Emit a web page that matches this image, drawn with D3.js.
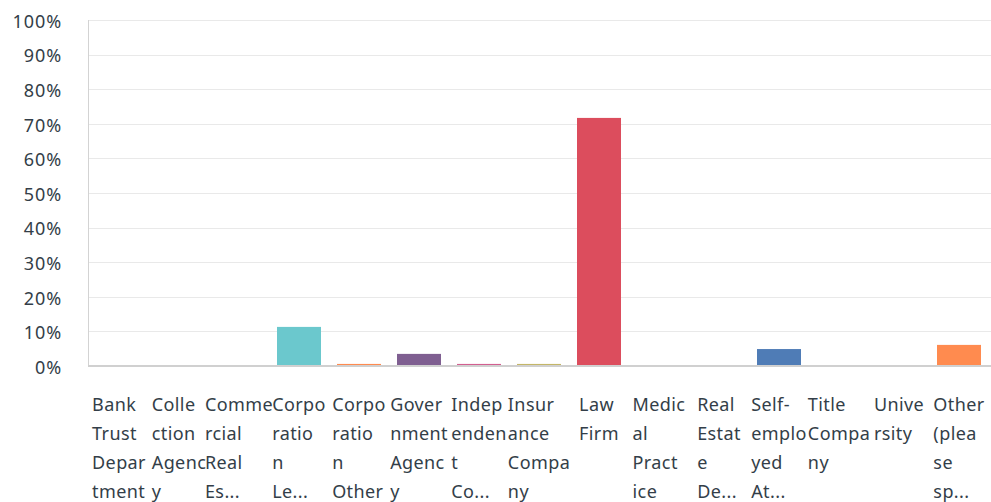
<!DOCTYPE html>
<html>
<head>
<meta charset="utf-8">
<script src="https://cdn.jsdelivr.net/npm/d3@7"></script>
<style>
body { margin: 0; background: #fff; }
text { font-family: "Noto Sans", sans-serif; fill: #333e48; }
</style>
</head>
<body>
<div id="chart"></div>
<script>
// answer choices
var categories = ["Bank Trust Department", "Collection Agency", "Commercial Real Estate",
  "Corporation Legal", "Corporation Other", "Government Agency", "Independent Contractor",
  "Insurance Company", "Law Firm", "Medical Practice", "Real Estate Developer",
  "Self-employed Attorney", "Title Company", "University", "Other (please specify)"];

// wrapped label lines as shown under each bar
var labelLines = [
  ["Bank", "Trust", "Depar", "tment"],
  ["Colle", "ction", "Agenc", "y"],
  ["Comme", "rcial", "Real", "Es..."],
  ["Corpo", "ratio", "n", "Le..."],
  ["Corpo", "ratio", "n", "Other"],
  ["Gover", "nment", "Agenc", "y"],
  ["Indep", "enden", "t", "Co..."],
  ["Insur", "ance", "Compa", "ny"],
  ["Law", "Firm"],
  ["Medic", "al", "Pract", "ice"],
  ["Real", "Estat", "e", "De..."],
  ["Self-", "emplo", "yed", "At..."],
  ["Title", "Compa", "ny"],
  ["Unive", "rsity"],
  ["Other", "(plea", "se", "sp..."]
];

// percent of respondents
var values = [0, 0, 0, 11.3, 0.6, 3.5, 0.6, 0.6, 71.7, 0, 0, 4.9, 0, 0, 6.1];

var colors = ["#6bc8cd", "#ff8b4f", "#7d5e90", "#6bc8cd", "#ff8b4f", "#7f5f91", "#d25f90",
  "#c4b668", "#dc4d5d", "#9aa0a6", "#7d5e90", "#4f7cb6", "#6bc8cd", "#ff8b4f", "#ff8b4f"];

var yTicks = [0, 10, 20, 30, 40, 50, 60, 70, 80, 90, 100];

var width = 991,
    height = 502;

var svg = d3.select("#chart")
    .append("svg")
    .attr("width", width)
    .attr("height", height);

var xScale = d3.scaleBand()
    .domain(categories)
    .range([89, 989])
    .paddingInner(16 / 60)
    .paddingOuter(8 / 60);

var yScale = d3.scaleLinear()
    .domain([0, 100])
    .range([366, 20]);

// grid lines
svg.append("g")
    .selectAll("line")
    .data(yTicks.filter(function(d) { return d > 0; }))
    .enter().append("line")
    .attr("x1", 88)
    .attr("x2", width)
    .attr("y1", function(d) { return Math.round(yScale(d)) + 0.5; })
    .attr("y2", function(d) { return Math.round(yScale(d)) + 0.5; })
    .attr("stroke", "#e9e9e9")
    .attr("stroke-width", 1);

// left axis line
svg.append("line")
    .attr("x1", 88.5).attr("x2", 88.5)
    .attr("y1", yScale(100)).attr("y2", yScale(0))
    .attr("stroke", "#d3d3d3");

var yAxis = d3.axisLeft(yScale)
    .tickValues(yTicks)
    .tickSize(0)
    .tickPadding(0)
    .tickFormat(function(d) { return d + "%"; });

svg.append("g")
    .attr("class", "yAxis")
    .attr("transform", "translate(62,0)")
    .call(yAxis)
    .call(function(g) { g.select(".domain").remove(); })
    .selectAll("text")
    .attr("dy", "0.4em")
    .style("font-family", "Noto Sans")
    .style("font-size", "18px")
    .style("letter-spacing", "0.9px")
    .attr("fill", "#333e48");

// bars
svg.append("g")
    .selectAll("rect")
    .data(values)
    .enter().append("rect")
    .attr("x", function(d, i) { return xScale(categories[i]); })
    .attr("width", xScale.bandwidth())
    .attr("y", function(d) { return yScale(d); })
    .attr("height", function(d) { return yScale(0) - yScale(d); })
    .attr("fill", function(d, i) { return colors[i]; });

// baseline
svg.append("line")
    .attr("x1", 88).attr("x2", width)
    .attr("y1", yScale(0)).attr("y2", yScale(0))
    .attr("stroke", "#d0d0d0")
    .attr("stroke-width", 2);

// x labels: block centred under bar, lines left aligned
var labels = svg.append("g")
    .selectAll("text")
    .data(categories)
    .enter().append("text")
    .style("font-size", "18px")
    .style("letter-spacing", "0.4px");

labels.each(function(c, i) {
    var t = d3.select(this);
    labelLines[i].forEach(function(s, j) {
        t.append("tspan").attr("y", 411 + j * 29).text(s);
    });
    var maxW = 0;
    t.selectAll("tspan").each(function() {
        maxW = Math.max(maxW, this.getComputedTextLength());
    });
    var left = xScale(c) + xScale.bandwidth() / 2 - maxW / 2;
    t.selectAll("tspan").attr("x", left);
});
</script>
</body>
</html>
